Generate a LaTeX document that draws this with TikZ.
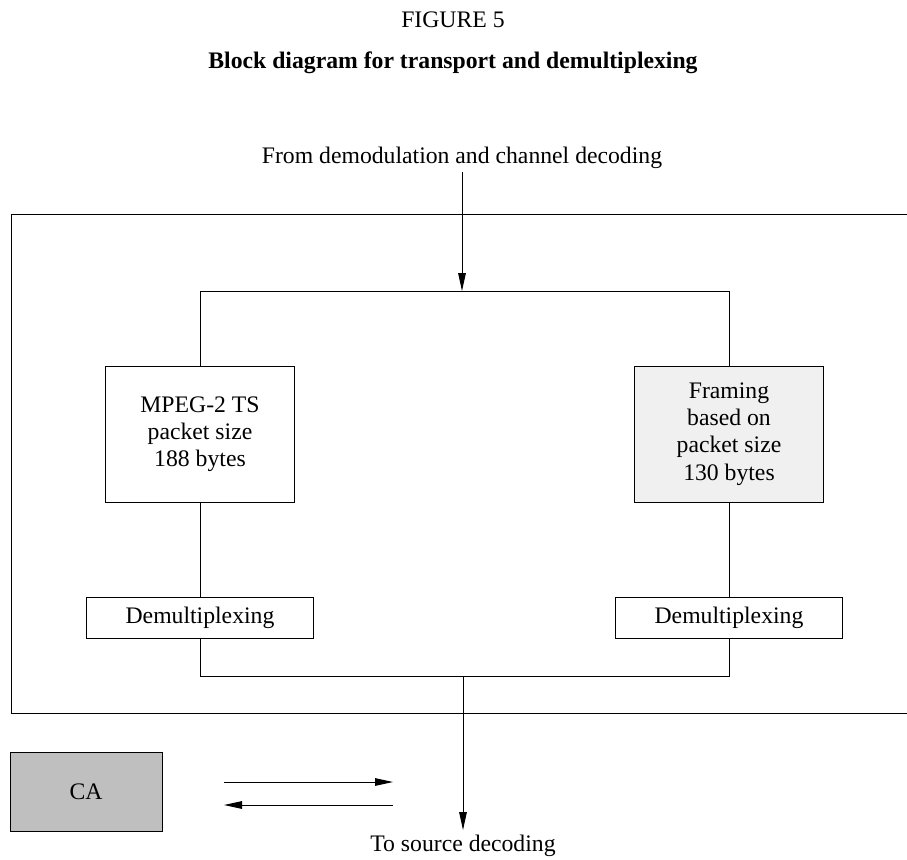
\documentclass[tikz,border=0pt]{standalone}
\usepackage{fontspec}
\setmainfont{Liberation Serif}
\usetikzlibrary{arrows.meta}
\begin{document}
\begin{tikzpicture}[x=0.5pt,y=-0.5pt,
  line width=0.5pt,
  font=\fontsize{11.85}{13.6}\selectfont,
  arr/.style={-{Triangle[length=9pt,width=3.8pt]}},
  blockbox/.style={draw,align=center,inner sep=2pt},
  bigbox/.style={blockbox,minimum width=94.5pt,minimum height=68pt},
  dmxbox/.style={blockbox,minimum width=113.5pt,minimum height=20.5pt},
  lbl/.style={inner sep=0pt,anchor=base}]
\useasboundingbox (0,0) rectangle (907,859);

% headings
\node[lbl] (fig) at (453,27) {FIGURE 5};
\node[lbl] (ttl) at (453,68) {\bfseries Block diagram for transport and demultiplexing};

% outer frame (open to the right)
\draw (907,214) -- (11,214) -- (11,713) -- (907,713);

% input
\node[lbl] (src) at (462,163) {From demodulation and channel decoding};
\coordinate (srcend) at (462,172);
\coordinate (tin) at (462,291);
\draw[arr] (srcend) -- (tin);

% processing blocks
\node[bigbox] (lbox) at (200,434) {MPEG-2 TS\\packet size\\188 bytes};
\node[bigbox,fill=black!6] (rbox) at (729,434) {Framing\\based on\\packet size\\130 bytes};
\node[dmxbox] (ldmx) at (200,617.5) {Demultiplexing};
\node[dmxbox] (rdmx) at (729,617.5) {Demultiplexing};

\draw (lbox.north) |- (tin) -| (rbox.north);
\draw (lbox.south) -- (ldmx.north);
\draw (rbox.south) -- (rdmx.north);

% output
\coordinate (bjoin) at (463,676);
\draw (ldmx.south) |- (bjoin) -| (rdmx.south);
\coordinate (sinkend) at (463,830);
\draw[arr] (bjoin) -- (sinkend);
\node[lbl] (sink) at (463,851) {To source decoding};

% conditional access
\node[draw,fill=black!25,minimum width=76pt,minimum height=39.5pt] (ca) at (86,791.5) {CA};
\coordinate (a1) at (224,782);
\coordinate (a2) at (393,782);
\coordinate (b1) at (393,805);
\coordinate (b2) at (224,805);
\draw[arr] (a1) -- (a2);
\draw[arr] (b1) -- (b2);
\end{tikzpicture}
\end{document}
